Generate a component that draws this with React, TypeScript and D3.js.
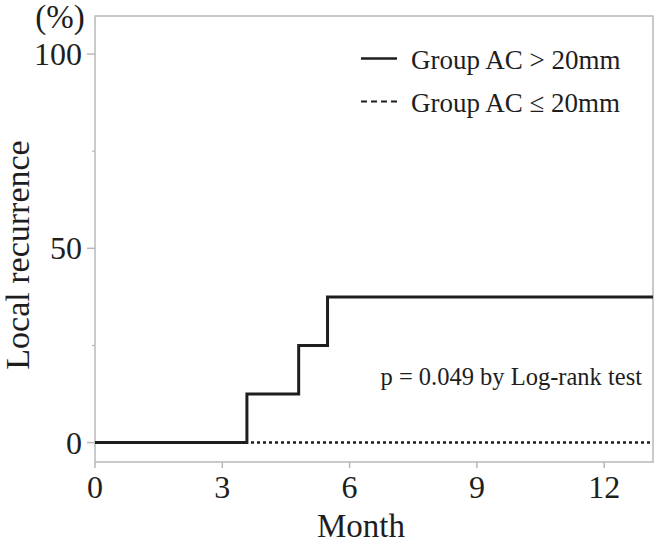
import React from "react";
import * as d3 from "d3";

const xTicks = [0, 3, 6, 9, 12];
const yTicks = [0, 50, 100];
const yMinorTicks = [25, 75];

// Kaplan-Meier style cumulative recurrence, Group AC > 20mm
const groupLargeTimes = [0, 3.58, 4.8, 5.48, 13.15];
const groupLargeValues = [0, 12.5, 25, 37.5, 37.5];
// Group AC <= 20mm
const groupSmallTimes = [0, 13.15];
const groupSmallValues = [0, 0];

const legendLabels = ["Group AC > 20mm", "Group AC \u2264 20mm"];
const pText = "p = 0.049 by Log-rank test";

const W = 661;
const H = 544;
const FONT = "'Liberation Serif', 'Times New Roman', serif";
const GRAY = "#b9b9b9";
const INK = "#1e1e1e";

export default function App() {
  const x = d3.scaleLinear().domain([0, 13.15]).range([95, 653]);
  const y = d3.scaleLinear().domain([-5, 109.8]).range([462, 16]);

  const line = d3
    .line<[number, number]>()
    .x((d) => x(d[0]))
    .y((d) => y(d[1]))
    .curve(d3.curveStepAfter);

  const large: [number, number][] = groupLargeTimes.map((t, i) => [t, groupLargeValues[i]]);
  const small: [number, number][] = groupSmallTimes.map((t, i) => [t, groupSmallValues[i]]);

  const [x0, x1] = x.range();
  const [yb, yt] = y.range();

  return (
    <svg
      width={W}
      height={H}
      style={{ position: "absolute", left: 0, top: 0, background: "#fff" }}
      fontFamily={FONT}
    >
      {/* frame */}
      <rect x={x0} y={yt} width={x1 - x0} height={yb - yt} fill="none" stroke={GRAY} strokeWidth={1.5} />
      {/* y ticks */}
      {yTicks.map((t) => (
        <g key={"y" + t}>
          <line x1={x0 - 8} x2={x0} y1={y(t)} y2={y(t)} stroke={GRAY} strokeWidth={1.5} />
          <text x={82} y={y(t) + 11} textAnchor="end" fontSize={32} fill={INK}>
            {t}
          </text>
        </g>
      ))}
      {yMinorTicks.map((t) => (
        <line key={"ym" + t} x1={x0 - 3} x2={x0} y1={y(t)} y2={y(t)} stroke={GRAY} strokeWidth={1.2} />
      ))}
      {/* x ticks */}
      {xTicks.map((t) => (
        <g key={"x" + t}>
          <line x1={x(t)} x2={x(t)} y1={yb} y2={yb + 6} stroke={GRAY} strokeWidth={1.5} />
          <text x={x(t)} y={498} textAnchor="middle" fontSize={32} fill={INK}>
            {t}
          </text>
        </g>
      ))}
      {/* axis titles */}
      <text x={361} y={537} textAnchor="middle" fontSize={33} fill={INK}>
        Month
      </text>
      <text transform="translate(29,255) rotate(-90)" textAnchor="middle" fontSize={34} fill={INK}>
        Local recurrence
      </text>
      <text x={60} y={28} textAnchor="middle" fontSize={33} fill={INK}>
        (%)
      </text>

      {/* curves */}
      <path d={line(small) || ""} fill="none" stroke={INK} strokeWidth={2.5} strokeDasharray="3,3" />
      <path d={line(large) || ""} fill="none" stroke={INK} strokeWidth={3} />

      {/* legend */}
      <line x1={361} x2={397} y1={58.5} y2={58.5} stroke={INK} strokeWidth={2.5} />
      <text x={411} y={69} fontSize={27} fill={INK}>
        {legendLabels[0]}
      </text>
      <line x1={361} x2={397} y1={101.5} y2={101.5} stroke={INK} strokeWidth={2} strokeDasharray="6,4" />
      <text x={411} y={111.5} fontSize={27} fill={INK}>
        {legendLabels[1]}
      </text>

      {/* p value */}
      <text x={642} y={385} textAnchor="end" fontSize={24.5} fill={INK}>
        {pText}
      </text>
    </svg>
  );
}
